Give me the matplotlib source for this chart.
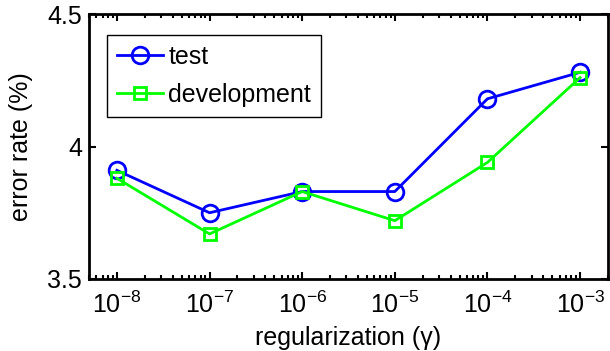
import numpy as np
import matplotlib.pyplot as plt

plt.rcParams['font.family'] = ['Liberation Sans', 'DejaVu Sans']
plt.rcParams['mathtext.fontset'] = 'custom'
plt.rcParams['mathtext.rm'] = 'Liberation Sans'

# data
gamma = [1e-8, 1e-7, 1e-6, 1e-5, 1e-4, 1e-3]
err_test = [3.91, 3.75, 3.83, 3.83, 4.18, 4.28]
err_dev = [3.88, 3.67, 3.83, 3.72, 3.94, 4.26]

fig = plt.figure(figsize=(6.1, 3.51), dpi=100)
ax = fig.add_axes([89/610, 1 - 279/351, (608-89)/610, (279-14)/351])

ax.plot(gamma, err_test, '-o', color=(0, 0, 1), lw=2, ms=12, mew=2,
        mfc='none', label='test')
ax.plot(gamma, err_dev, '-s', color=(0, 1, 0), lw=2, ms=9, mew=2,
        mfc='none', label='development')

ax.set_xscale('log')
ax.set_xlim(5e-9, 2e-3)
ax.set_ylim(3.5, 4.5)
ax.set_xticks(gamma)
ax.set_yticks([3.5, 4, 4.5])
ax.set_yticklabels(['3.5', '4', '4.5'])
ax.tick_params(direction='in', which='both', top=True, right=True,
               labelsize=18, width=1.5)
ax.tick_params(which='major', length=5, pad=5)
ax.tick_params(axis='x', which='major', pad=9)
ax.tick_params(which='minor', length=3)
for s in ax.spines.values():
    s.set_linewidth(2)

ax.set_xlabel('regularization (γ)', fontsize=18)
ax.xaxis.set_label_coords(0.5, -0.178)
ax.set_ylabel('error rate (%)', fontsize=18)
ax.yaxis.set_label_coords(-0.108, 0.5)

leg = ax.legend(loc='upper left', fontsize=18, fancybox=False,
                edgecolor='black', framealpha=1, handlelength=1.85,
                handletextpad=0.2, borderpad=0.4, labelspacing=0.55,
                borderaxespad=0, bbox_to_anchor=(18/519, 1 - 21/265))
leg.get_frame().set_linewidth(1)

plt.savefig('out.png', dpi=100)
